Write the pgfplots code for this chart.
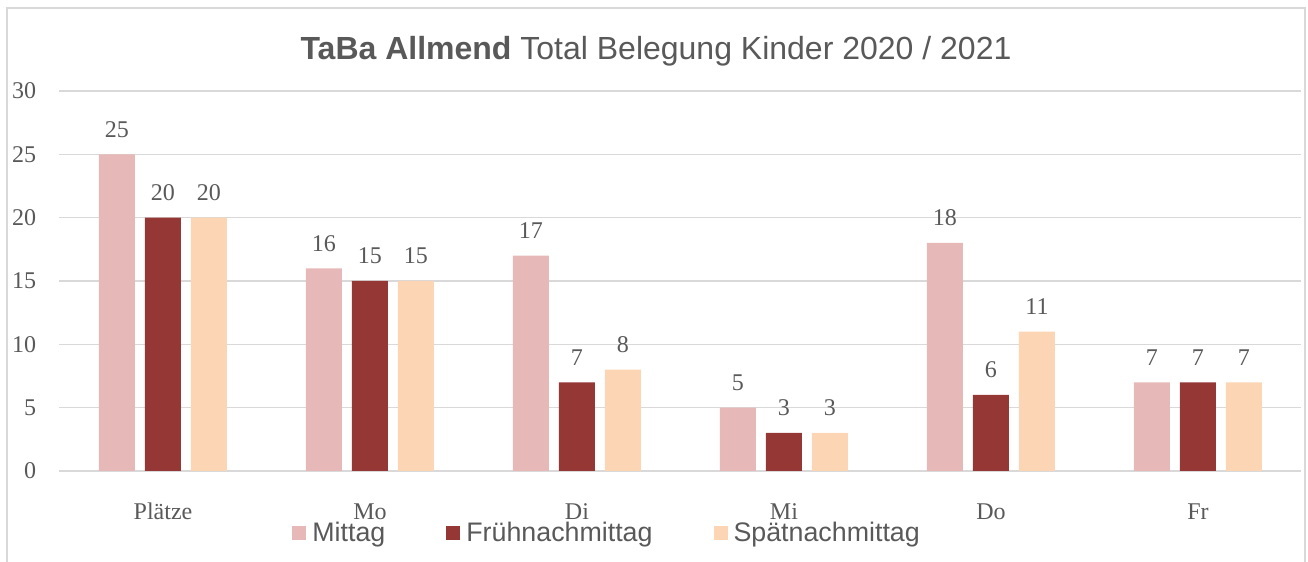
\documentclass[border=0pt]{standalone}
\usepackage{pgfplots}
\pgfplotsset{compat=1.18}
\usepackage{fontspec}
\setmainfont{Liberation Serif}
\newfontfamily\arial{Liberation Sans}
\definecolor{mittag}{HTML}{E6B8B7}
\definecolor{frueh}{HTML}{953735}
\definecolor{spaet}{HTML}{FCD5B5}
\definecolor{txt}{HTML}{595959}
\definecolor{gridc}{HTML}{D9D9D9}

\begin{document}
\begin{tikzpicture}
\useasboundingbox (0,0) rectangle (654pt,281pt);
% chart frame (bottom edge lies outside the page)
\draw[gridc, line width=0.75pt] (3.5pt,-5pt) -- (3.5pt,277pt) -- (652.5pt,277pt) -- (652.5pt,-5pt);
\node[anchor=base, text=txt, inner sep=0pt, font=\arial\fontsize{16}{19}\selectfont]
  at (328pt,251pt) {\textbf{TaBa Allmend} Total Belegung Kinder 2020 / 2021};
\begin{axis}[
    at={(29.75pt,45.5pt)}, anchor=south west,
    scale only axis, width=621pt, height=190pt,
    ybar=5pt, bar width=18pt,
    xmin=-0.5, xmax=5.5, ymin=0, ymax=30,
    xtick=data, xticklabels={Plätze,Mo,Di,Mi,Do,Fr},
    ytick={0,5,...,30},
    axis line style={draw=none},
    tick style={draw=none},
    ymajorgrids,
    major grid style={draw=gridc, line width=0.75pt},
    ticklabel style={font=\fontsize{12}{14}\selectfont, text=txt},
    yticklabel style={anchor=east, inner sep=0pt, xshift=-11.5pt},
    xticklabel style={anchor=base, inner sep=0pt, yshift=-20pt},
    /pgf/number format/assume math mode=true,
    nodes near coords,
    nodes near coords style={font=\fontsize{12}{14}\selectfont, text=txt,
        anchor=base, inner sep=0pt, yshift=8.5pt},
    legend columns=3,
    legend style={draw=none, fill=none, inner sep=0pt,
        at={(axis description cs:0.1872,-0.163)}, anchor=west,
        font=\arial\fontsize{13.4}{15}\selectfont, text=txt,
        nodes={inner sep=0pt},
        /tikz/every odd column/.append style={column sep=3pt},
        /tikz/every even column/.append style={column sep=30.5pt}},
    legend image code/.code={\fill[#1] (0pt,-3.5pt) rectangle (7pt,3.5pt);},
]
\addplot[fill=mittag, draw=none] coordinates {(0,25) (1,16) (2,17) (3,5) (4,18) (5,7)};
\addplot[fill=frueh, draw=none] coordinates {(0,20) (1,15) (2,7) (3,3) (4,6) (5,7)};
\addplot[fill=spaet, draw=none] coordinates {(0,20) (1,15) (2,8) (3,3) (4,11) (5,7)};
\legend{Mittag,Frühnachmittag,Spätnachmittag}
\end{axis}
\end{tikzpicture}
\end{document}
